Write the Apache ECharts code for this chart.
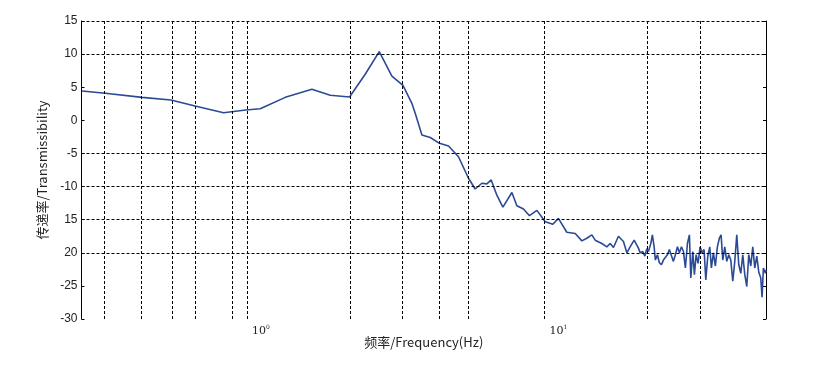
<!DOCTYPE html>
<html>
<head>
<meta charset="utf-8">
<script src="https://cdn.jsdelivr.net/npm/echarts@6/dist/echarts.min.js"></script>
<style>html,body{margin:0;padding:0;background:#fff;}#c{width:815px;height:367px;}</style>
</head>
<body>
<div id="c"></div>
<script>
// Frequency values (x, log axis units as labelled) and transmissibility (dB)
const freq = [0.279,0.334,0.444,0.555,0.669,0.834,0.99,1.108,1.345,1.653,1.905,2.212,2.50,2.784,3.07,3.344,3.58,3.677,3.873,4.13,4.438,4.759,5.14,5.554,5.849,6.16,6.404,6.621,6.918,7.248,7.771,8.077,8.502,8.904,9.43,10.06,10.67,11.14,11.89,12.69,13.36,13.88,14.43,14.81,15.59,16.21,16.63,17.06,17.73,18.43,18.92,19.41,20.02,20.7,
  20.97,21.41,21.75,22.08,22.36,22.78,23.06,23.37,23.60,23.97,24.34,24.73,25.11,25.50,25.90,26.30,26.71,27.13,27.55,27.99,28.42,28.87,29.32,29.77,30.24,30.71,31.04,31.52,31.92,32.34,32.84,33.35,33.87,34.40,34.86,35.40,35.95,36.40,36.97,37.54,38.13,38.72,39.24,39.76,40.38,41.01,41.65,42.30,42.96,43.63,44.31,45.00,45.71,46.42,47.14,47.87,48.62,49.38,50.15,50.93,51.73,52.53,53.35,53.89,54.44,55.29,55.56];
const trans = [4.43,4.08,3.47,3.07,2.16,1.15,1.56,1.76,3.47,4.68,3.78,3.52,7.0,10.37,6.69,5.29,2.6,1.06,-2.2,-2.6,-3.47,-3.88,-5.5,-8.75,-10.37,-9.5,-9.6,-9.0,-11.3,-13.1,-10.9,-12.9,-13.4,-14.4,-13.6,-15.3,-15.7,-14.8,-16.9,-17.1,-18.2,-17.8,-17.3,-18.1,-18.6,-19.1,-18.6,-19.2,-17.5,-18.3,-20.0,-19.1,-18.1,-19.3,
  -20.0,-19.8,-20.5,-19.4,-19.8,-18.6,-17.3,-19.1,-21.1,-20.3,-21.5,-21.8,-21.1,-21.3,-20.3,-19.5,-19.8,-21.3,-20.3,-19.1,-20.0,-19.1,-19.8,-22.3,-18.6,-17.3,-23.8,-19.8,-23.3,-20.3,-21.6,-19.1,-20.0,-19.5,-24.1,-20.5,-19.1,-22.3,-20.0,-22.0,-19.1,-17.8,-17.3,-21.1,-19.1,-21.3,-20.3,-21.1,-24.3,-21.3,-17.3,-21.8,-23.1,-20.3,-23.3,-25.1,-20.3,-22.0,-19.1,-22.3,-20.5,-22.9,-23.8,-26.7,-22.3,-23.1,-22.6];
const yTickLabels = {"15":"15","10":"10","5":"5","0":"0","-5":"-5","-10":"-10","-15":"15","-20":"20","-25":"-25","-30":"-30"};
const xGridValues = [1/3,4/9,5/9,2/3,8/9,1,20/9,10/3,40/9,50/9,10,200/9,100/3];
const yGridValues = [15,10,-5,-10,-15,-20];
const xMin = 2.5/9, xMax = 500/9;

const chart = echarts.init(document.getElementById('c'), null, {renderer:'canvas'});
const gridStyle = {color:'#000', type:[3,2], width:1};
chart.setOption({
  animation:false,
  backgroundColor:'#fff',
  grid:{left:81.5, right:49, top:21, bottom:48, containLabel:false},
  xAxis:{
    type:'log', logBase:10, min:xMin, max:xMax,
    name:'频率/Frequency(Hz)', nameLocation:'middle', nameGap:17, nameMoveOverlap:false,
    nameTextStyle:{fontFamily:'Noto Sans CJK SC', fontSize:13, color:'#222'},
    axisLine:{show:false}, axisTick:{show:false}, splitLine:{show:false},
    axisLabel:{
      showMinLabel:false, showMaxLabel:false, margin:5, align:'left', padding:[0,0,0,5],
      formatter:function(v){
        const e = Math.log10(v);
        if (Math.abs(e-Math.round(e))>1e-6) return '';
        return '{a|10}{s|'+Math.round(e)+'}';
      },
      rich:{a:{fontFamily:'DejaVu Serif', fontSize:11, color:'#222', lineHeight:14},
            s:{fontFamily:'DejaVu Serif', fontSize:6, color:'#222', verticalAlign:'top', lineHeight:14, padding:[0,0,6,0]}}
    }
  },
  yAxis:[{
    type:'value', min:-30, max:15, interval:5,
    name:'传递率/Transmissibility', nameLocation:'middle', nameGap:33, nameRotate:90, nameMoveOverlap:false,
    nameTextStyle:{fontFamily:'Noto Sans CJK SC', fontSize:13, color:'#222'},
    axisLine:{show:true, lineStyle:{color:'#000', width:1}},
    axisTick:{show:true, inside:true, length:3, lineStyle:{color:'#000'}},
    splitLine:{show:false},
    axisLabel:{margin:4, fontFamily:'Liberation Sans', fontSize:12, color:'#222',
      formatter:function(v){ return yTickLabels[String(v)] !== undefined ? yTickLabels[String(v)] : String(v); }}
  },{
    type:'value', min:-30, max:15, interval:5, position:'right',
    axisLine:{show:true, lineStyle:{color:'#000', width:1}},
    axisTick:{show:true, inside:true, length:3, lineStyle:{color:'#000'}},
    axisLabel:{show:false}, splitLine:{show:false}
  }],
  series:[{
    type:'line', data:[], z:1, silent:true,
    markLine:{silent:true, symbol:['none','none'], label:{show:false}, lineStyle:gridStyle, animation:false,
      data: xGridValues.map(v=>({xAxis:v})).concat(yGridValues.map(v=>({yAxis:v})))}
  },{
    type:'line', z:3, showSymbol:false, symbol:'none',
    lineStyle:{color:'#2b4a96', width:1.6},
    data: freq.map((f,i)=>[f, trans[i]])
  }]
});
</script>
</body>
</html>
